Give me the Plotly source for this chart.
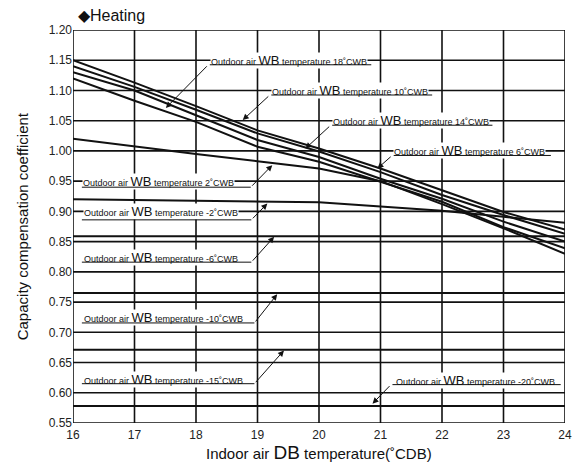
import plotly.graph_objects as go

# ---------------- data ----------------
indoor_db = [16, 17, 18, 19, 20, 21, 22, 23, 24]

wb_18 = [1.120, 1.083, 1.048, 1.007, 0.982, 0.949, 0.916, 0.874, 0.839]
wb_10 = [1.150, 1.113, 1.074, 1.034, 1.004, 0.971, 0.935, 0.899, 0.870]
wb_14 = [1.140, 1.106, 1.068, 1.029, 0.999, 0.965, 0.927, 0.894, 0.863]
wb_6 = [1.130, 1.100, 1.059, 1.018, 0.990, 0.954, 0.921, 0.883, 0.850]
wb_2 = [1.020, 1.007, 0.995, 0.983, 0.971, 0.950, 0.912, 0.872, 0.830]
wb_m2 = [0.920, 0.919, 0.918, 0.916, 0.915, 0.908, 0.901, 0.891, 0.881]
wb_m6 = [0.859] * 9
wb_m10 = [0.765] * 9
wb_m15 = [0.671] * 9
wb_m20 = [0.578] * 9

series = [
    ("18", wb_18), ("10", wb_10), ("14", wb_14), ("6", wb_6), ("2", wb_2),
    ("-2", wb_m2), ("-6", wb_m6), ("-10", wb_m10), ("-15", wb_m15), ("-20", wb_m20),
]

x_ticks = [16, 17, 18, 19, 20, 21, 22, 23, 24]
y_ticks = [0.55, 0.60, 0.65, 0.70, 0.75, 0.80, 0.85, 0.90, 0.95, 1.00, 1.05, 1.10, 1.15, 1.20]

FONT = "Arial, Liberation Sans, sans-serif"
INK = "#111111"

fig = go.Figure()

# grid lines + frame at the tick positions, one line trace per grid line
for v in x_ticks:
    fig.add_trace(go.Scatter(
        x=[v, v], y=[y_ticks[0], y_ticks[-1]], mode="lines",
        line=dict(color=INK, width=1.6), hoverinfo="skip", showlegend=False,
    ))
for v in y_ticks:
    fig.add_trace(go.Scatter(
        x=[x_ticks[0], x_ticks[-1]], y=[v, v], mode="lines",
        line=dict(color=INK, width=1.6), hoverinfo="skip", showlegend=False,
    ))

for name, vals in series:
    fig.add_trace(go.Scatter(
        x=indoor_db, y=vals, mode="lines", name=name + "˚CWB",
        line=dict(color=INK, width=2), showlegend=False,
    ))

# label specs: (temp, text_x, text_y, underline_x0, underline_x1, underline_y, lead_start(x,y), tip(x,y))
labels = [
    ("18", 18.22, 1.150, 18.20, 20.85, 1.1425, (18.20, 1.1425), (17.51, 1.071)),
    ("10", 19.22, 1.100, 19.20, 21.84, 1.0925, (19.20, 1.0925), (18.76, 1.051)),
    ("14", 20.21, 1.050, 20.19, 22.82, 1.0425, (20.19, 1.0425), (19.78, 1.004)),
    ("6", 21.21, 1.000, 21.19, 23.77, 0.9925, (21.19, 0.9925), (20.95, 0.971)),
    ("2", 16.14, 0.950, 16.12, 18.89, 0.9400, (18.89, 0.9400), (19.24, 0.9765)),
    ("-2", 16.16, 0.900, 16.12, 18.90, 0.8860, (18.90, 0.8860), (19.16, 0.913)),
    ("-6", 16.16, 0.8237, 16.12, 18.90, 0.8160, (18.90, 0.8160), (19.27, 0.858)),
    ("-10", 16.16, 0.7243, 16.12, 18.95, 0.7155, (18.95, 0.7155), (19.32, 0.763)),
    ("-15", 16.16, 0.6222, 16.12, 18.95, 0.6150, (18.95, 0.6150), (19.43, 0.670)),
    ("-20", 21.23, 0.6205, 21.17, 23.93, 0.6135, (21.17, 0.6135), (20.87, 0.582)),
]

annotations = []
for t, tx, ty, u0, u1, uy, (sx, sy), (ex, ey) in labels:
    annotations.append(dict(
        x=tx, y=ty, xref="x", yref="y", xanchor="left", yanchor="middle",
        text=f"Outdoor air <span style='font-size:13px'>WB</span> temperature {t}˚CWB",
        showarrow=False, font=dict(family=FONT, size=9, color=INK),
        bgcolor="white", borderpad=0,
    ))
for t, tx, ty, u0, u1, uy, (sx, sy), (ex, ey) in labels:
    annotations.append(dict(
        x=u1, y=uy, ax=u0, ay=uy, xref="x", yref="y", axref="x", ayref="y",
        text="", showarrow=True, arrowhead=0, arrowwidth=1, arrowcolor=INK,
    ))
    annotations.append(dict(
        x=ex, y=ey, ax=sx, ay=sy, xref="x", yref="y", axref="x", ayref="y",
        text="", showarrow=True, arrowhead=2, arrowsize=1.2, arrowwidth=1,
        arrowcolor=INK,
    ))

annotations.append(dict(
    x=0.006, y=1.038, xref="paper", yref="paper", xanchor="left", yanchor="middle",
    text="◆Heating", showarrow=False, font=dict(family=FONT, size=16, color=INK),
))
annotations.append(dict(
    x=0.5, y=-0.076, xref="paper", yref="paper", xanchor="center", yanchor="middle",
    text="Indoor air <span style='font-size:19px'>DB</span> temperature(˚CDB)",
    showarrow=False, font=dict(family=FONT, size=15, color=INK),
))
annotations.append(dict(
    x=-0.102, y=0.5, xref="paper", yref="paper", xanchor="center", yanchor="middle",
    text="Capacity compensation coefficient", textangle=-90,
    showarrow=False, font=dict(family=FONT, size=15, color=INK),
))

axis_common = dict(
    showgrid=False, showline=False, ticks="", zeroline=False,
    tickfont=dict(family=FONT, size=12, color="#222222"),
)

# page body has an 8px default margin, so the figure is sized to fit the window
fig.update_layout(
    width=573, height=456,
    margin=dict(l=65, r=9, t=22, b=41),
    paper_bgcolor="white", plot_bgcolor="white",
    annotations=annotations,
    xaxis=dict(range=[16, 24], tickvals=x_ticks, ticklabelstandoff=3,
               ticktext=[str(v) for v in x_ticks], **axis_common),
    yaxis=dict(range=[0.55, 1.20], tickvals=y_ticks,
               ticktext=[f"{v:.2f}" for v in y_ticks], **axis_common),
)

fig.write_html("out.html")
